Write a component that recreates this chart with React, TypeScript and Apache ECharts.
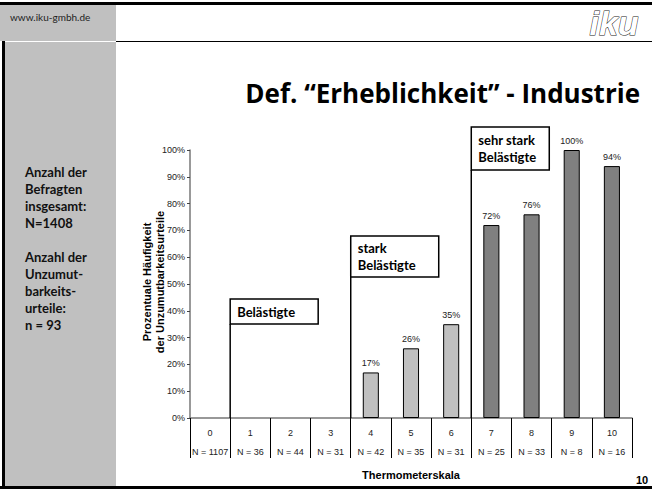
import React, { useEffect, useRef } from "react";
import * as echarts from "echarts";

// ---- data ----
const categories = ["0", "1", "2", "3", "4", "5", "6", "7", "8", "9", "10"];
const sampleSizes = ["1107", "36", "44", "31", "42", "35", "31", "25", "33", "8", "16"];
const percentages = [0, 0, 0, 0, 17, 26, 35, 72, 76, 100, 94];
const yTicks = [0, 10, 20, 30, 40, 50, 60, 70, 80, 90, 100];
// group start index (category boundary) and box label
const groupStarts = [1, 4, 7];
const groupLabels = ["Belästigte", "stark\nBelästigte", "sehr stark\nBelästigte"];
const groupBarColors = ["#ffffff", "#c0c0c0", "#808080"];
const sidebarLines = [
  "Anzahl der",
  "Befragten",
  "insgesamt:",
  "N=1408",
  "",
  "Anzahl der",
  "Unzumut-",
  "barkeits-",
  "urteile:",
  "n = 93",
];
const titleText = "Def. \u201cErheblichkeit\u201d - Industrie";

// ---- layout ----
const W = 652;
const H = 490;
const G_LEFT = 190;
const G_RIGHT = 20;
const G_TOP = 150;
const G_BOTTOM = 72;
const AXIS_Y = H - G_BOTTOM;
const CAT_W = (W - G_LEFT - G_RIGHT) / categories.length;
const BOXES = [
  { y: 299, w: 88, h: 25 },
  { y: 236, w: 88, h: 41 },
  { y: 127, w: 78, h: 43 },
];

function groupOf(i: number): number {
  let g = -1;
  groupStarts.forEach((s, k) => {
    if (i >= s) g = k;
  });
  return g;
}

export default function App() {
  const ref = useRef<HTMLDivElement>(null);
  useEffect(() => {
    if (!ref.current) return;
    const chart = echarts.init(ref.current, null, { renderer: "svg" });

    const graphics: any[] = [];
    // frame
    graphics.push({ type: "rect", shape: { x: 0, y: 5, width: 116, height: 36 }, style: { fill: "#c0c0c0" }, z: 0 });
    graphics.push({ type: "rect", shape: { x: 5, y: 42, width: 111, height: 444 }, style: { fill: "#c0c0c0" }, z: 0 });
    graphics.push({ type: "rect", shape: { x: 0, y: 2, width: W, height: 3 }, style: { fill: "#000" } });
    graphics.push({ type: "rect", shape: { x: 2, y: 41, width: 3, height: 448 }, style: { fill: "#000" } });
    graphics.push({ type: "rect", shape: { x: 0, y: 486, width: W, height: 3 }, style: { fill: "#000" } });
    graphics.push({ type: "line", shape: { x1: 116, y1: 41.5, x2: W, y2: 41.5 }, style: { stroke: "#000", lineWidth: 1 } });
    graphics.push({
      type: "text", x: 10, y: 17,
      style: { text: "www.iku-gmbh.de", font: "10px Lato", fill: "#222", verticalAlign: "middle" },
    });
    // logo
    graphics.push({
      type: "text", x: 614, y: 23,
      style: {
        text: "iku", font: "italic bold 34px 'Liberation Sans'", fill: "#fff", stroke: "#222", lineWidth: 1,
        align: "center", verticalAlign: "middle",
      },
    });
    // title
    graphics.push({
      type: "text", x: 640, y: 93,
      style: { text: titleText, font: "bold 26px 'Open Sans'", fill: "#000", align: "right", verticalAlign: "middle" },
    });
    // sidebar
    sidebarLines.forEach((t, i) => {
      if (!t) return;
      graphics.push({
        type: "text", x: 25, y: 172 + i * 17,
        style: { text: t, font: "bold 13px Lato", fill: "#111", verticalAlign: "middle" },
      });
    });
    // y-axis title
    graphics.push({
      type: "text", x: 147, y: 282, rotation: Math.PI / 2,
      style: { text: "Prozentuale Häufigkeit", font: "bold 11px 'Liberation Sans'", fill: "#000", align: "center", verticalAlign: "middle" },
    });
    graphics.push({
      type: "text", x: 160, y: 282, rotation: Math.PI / 2,
      style: { text: "der Unzumutbarkeitsurteile", font: "bold 11px 'Liberation Sans'", fill: "#000", align: "center", verticalAlign: "middle" },
    });
    // x-axis title
    graphics.push({
      type: "text", x: 411, y: 475,
      style: { text: "Thermometerskala", font: "bold 11px 'Liberation Sans'", fill: "#000", align: "center", verticalAlign: "middle" },
    });
    // page number
    graphics.push({
      type: "text", x: 642, y: 480,
      style: { text: "10", font: "bold 11px 'Liberation Sans'", fill: "#000", align: "center", verticalAlign: "middle" },
    });
    // group boxes
    groupStarts.forEach((s, k) => {
      const x = G_LEFT + s * CAT_W;
      const b = BOXES[k];
      graphics.push({
        type: "line", shape: { x1: x, y1: b.y + b.h, x2: x, y2: AXIS_Y }, style: { stroke: "#000", lineWidth: 1.5 }, z: 10,
      });
      graphics.push({
        type: "rect", shape: { x, y: b.y, width: b.w, height: b.h }, style: { fill: "#fff", stroke: "#000", lineWidth: 1.5 }, z: 10,
      });
      graphics.push({
        type: "text", x: x + 7, y: b.y + b.h / 2, z: 11,
        style: {
          text: groupLabels[k], font: "bold 13px Lato", fill: "#000", verticalAlign: "middle", lineHeight: 17,
        },
      });
    });

    chart.setOption({
      animation: false,
      grid: { left: G_LEFT, right: G_RIGHT, top: G_TOP, bottom: G_BOTTOM },
      xAxis: {
        type: "category",
        data: categories,
        axisLine: { lineStyle: { color: "#777", width: 1.5 } },
        axisTick: { show: true, length: 40, interval: 0, lineStyle: { color: "#000", width: 1 } },
        axisLabel: {
          interval: 0,
          margin: 5,
          formatter: (v: string, i: number) => `{a|${v}}\n{b|N = ${sampleSizes[i]}}`,
          rich: {
            a: { fontSize: 9, fontFamily: "Liberation Sans", color: "#222", lineHeight: 19 },
            b: { fontSize: 9, fontFamily: "Liberation Sans", color: "#222", lineHeight: 19 },
          },
        },
      },
      yAxis: {
        type: "value",
        min: yTicks[0],
        max: yTicks[yTicks.length - 1],
        interval: yTicks[1] - yTicks[0],
        splitLine: { show: false },
        axisLine: { show: true, lineStyle: { color: "#777", width: 1.5 } },
        axisTick: { show: true, length: 3, lineStyle: { color: "#444" } },
        axisLabel: { formatter: "{value}%", fontSize: 9, fontFamily: "Liberation Sans", color: "#222", margin: 5 },
      },
      series: [
        {
          type: "bar",
          barWidth: "40%",
          data: percentages.map((v, i) =>
            v === 0
              ? "-"
              : { value: v, itemStyle: { color: groupBarColors[groupOf(i)], borderColor: "#000", borderWidth: 1 } }
          ),
          label: {
            show: true,
            position: "top",
            distance: 5,
            formatter: "{c}%",
            fontSize: 9,
            fontFamily: "Liberation Sans",
            color: "#222",
          },
        },
      ],
      graphic: graphics,
    });
    return () => chart.dispose();
  }, []);
  return <div ref={ref} style={{ position: "fixed", left: 0, top: 0, width: W, height: H, background: "#fff" }} />;
}
